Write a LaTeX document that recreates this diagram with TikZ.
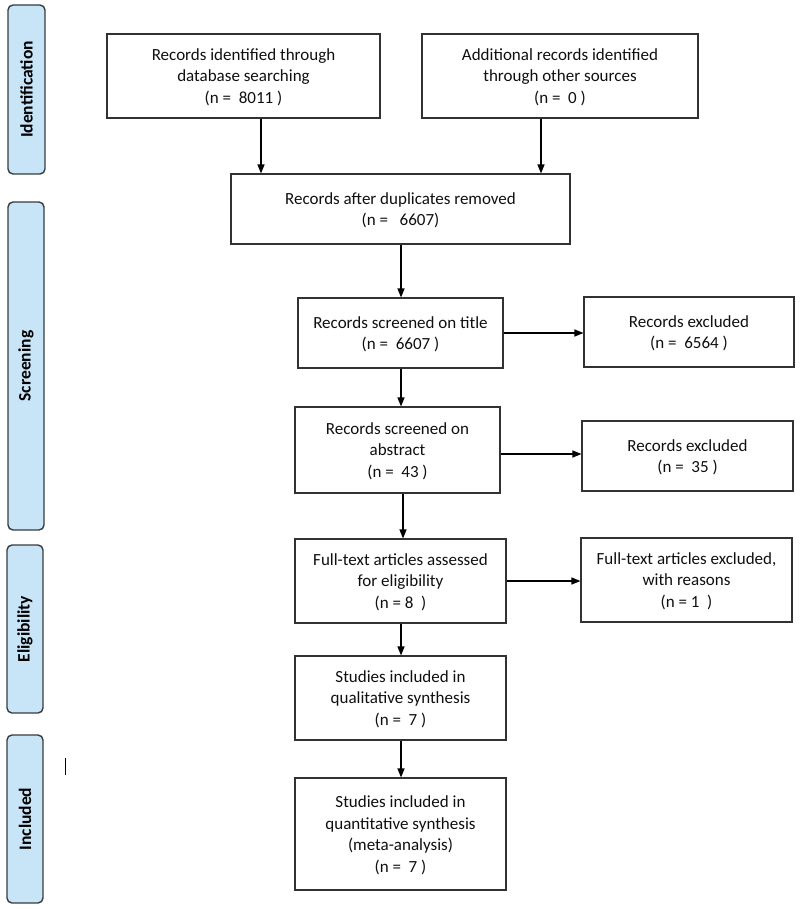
\documentclass[tikz,border=0pt]{standalone}
\usepackage{fontspec}
\setmainfont{Carlito}
\usetikzlibrary{arrows.meta}
\definecolor{phasefill}{RGB}{200,228,247}
\definecolor{phaseline}{RGB}{55,60,65}
\definecolor{boxline}{RGB}{50,50,50}
\definecolor{txt}{RGB}{15,15,15}
\begin{document}
\begin{tikzpicture}[x=1pt,y=-1pt,
  flowbox/.style={draw=boxline, line width=1.1pt, align=center, inner sep=0pt, text=txt,
    font=\fontsize{17}{21.5}\selectfont, text depth=0pt},
  phase/.style={draw=phaseline, fill=phasefill, rounded corners=5pt, line width=1.4pt,
    inner sep=0pt, text=black, font=\bfseries\fontsize{17.5}{20}\selectfont},
  arr/.style={-{Triangle[length=9pt,width=7pt]}, line width=1.3pt, black}]
\useasboundingbox (0,0) rectangle (800,909);

% phase labels
\node[phase, rotate=90, minimum width=169pt, minimum height=37pt] (p1) at (26.5,89.5) {Identification};
\node[phase, rotate=90, minimum width=328pt, minimum height=36pt] (p2) at (26,366) {Screening};
\node[phase, rotate=90, minimum width=168pt, minimum height=36pt] (p3) at (25,629) {Eligibility};
\node[phase, rotate=90, minimum width=168pt, minimum height=36pt] (p4) at (25,819) {Included};

% boxes
\node[flowbox, minimum width=273pt, minimum height=84pt] (b1) at (243.5,76)
  {Records identified through\\database searching\\(n =\ \ 8011 )};
\node[flowbox, minimum width=276pt, minimum height=84pt] (b2) at (560,76)
  {Additional records identified\\through other sources\\(n =\ \ 0 )};
\node[flowbox, minimum width=339pt, minimum height=70pt] (b3) at (400.5,209)
  {Records after duplicates removed\\(n =\ \ \ 6607)};
\node[flowbox, minimum width=205pt, minimum height=70pt] (b4) at (400.5,333)
  {Records screened on title\\(n =\ \ 6607 )};
\node[flowbox, minimum width=210pt, minimum height=70pt] (e1) at (689,332)
  {Records excluded\\(n =\ \ 6564 )};
\node[flowbox, minimum width=205pt, minimum height=86pt] (b5) at (397.5,450)
  {Records screened on\\abstract\\(n =\ \ 43 )};
\node[flowbox, minimum width=211pt, minimum height=70pt] (e2) at (687.5,456)
  {Records excluded\\(n =\ \ 35 )};
\node[flowbox, minimum width=211pt, minimum height=84pt] (b6) at (400.5,581)
  {Full-text articles assessed\\for eligibility\\(n = 8\ \ )};
\node[flowbox, minimum width=211pt, minimum height=84pt] (e3) at (686.5,580)
  {Full-text articles excluded,\\with reasons\\(n = 1\ \ )};
\node[flowbox, minimum width=211pt, minimum height=84pt] (b7) at (400.5,698)
  {Studies included in\\qualitative synthesis\\(n =\ \ 7 )};
\node[flowbox, minimum width=211pt, minimum height=112pt] (b8) at (400.5,834)
  {Studies included in\\quantitative synthesis\\(meta-analysis)\\(n =\ \ 7 )};

% connector guide coordinates
\coordinate (v1) at (261,0);
\coordinate (v2) at (541,0);
\coordinate (v3) at (401,0);
\coordinate (v4) at (403,0);
\coordinate (h1) at (0,333);
\coordinate (h2) at (0,454);
\coordinate (h3) at (0,581);

\draw[arr] (b1.south -| v1) -- (b3.north -| v1);
\draw[arr] (b2.south -| v2) -- (b3.north -| v2);
\draw[arr] (b3.south -| v3) -- (b4.north -| v3);
\draw[arr] (b4.south -| v3) -- (b5.north -| v3);
\draw[arr] (b5.south -| v4) -- (b6.north -| v4);
\draw[arr] (b6.south -| v3) -- (b7.north -| v3);
\draw[arr] (b7.south -| v3) -- (b8.north -| v3);
\draw[arr] (b4.east |- h1) -- (e1.west |- h1);
\draw[arr] (b5.east |- h2) -- (e2.west |- h2);
\draw[arr] (b6.east |- h3) -- (e3.west |- h3);

% stray mark
\draw[line width=1pt, black] (65,758) -- (65,775);
\end{tikzpicture}
\end{document}
